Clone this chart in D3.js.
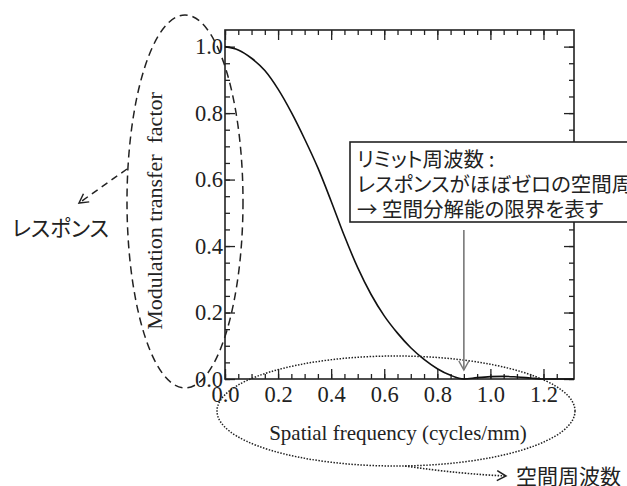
<!DOCTYPE html>
<html>
<head>
<meta charset="utf-8">
<script src="https://cdn.jsdelivr.net/npm/d3@7"></script>
<style>
  body { margin: 0; background: #fff; }
  svg { display: block; }
  .serif { font-family: "Liberation Serif", "Times New Roman", serif; fill: #222; }
  .jp { font-family: "Noto Sans CJK JP", sans-serif; fill: #222; font-feature-settings: "palt"; }
</style>
</head>
<body>
<div class="container"></div>
<script>
// spatial frequency (cycles/mm) and read-off MTF values
var frequency = [0, 0.05, 0.1, 0.15, 0.2, 0.25, 0.3, 0.35, 0.4, 0.45, 0.5, 0.55, 0.6, 0.65, 0.7, 0.75, 0.8, 0.85, 0.9, 0.95, 1.0, 1.05, 1.1, 1.15, 1.2, 1.25, 1.315];
var mtf = [1.0, 0.99, 0.965, 0.928, 0.872, 0.802, 0.722, 0.635, 0.535, 0.43, 0.335, 0.255, 0.19, 0.138, 0.094, 0.059, 0.031, 0.011, 0.0, 0.004, 0.007, 0.008, 0.006, 0.003, 0.0, 0.0, 0.0];

var xTicks = [0, 0.2, 0.4, 0.6, 0.8, 1.0, 1.2];
var yTicks = [0, 0.2, 0.4, 0.6, 0.8, 1.0];
var minorX = d3.range(0, 1.30, 0.05);
var minorY = d3.range(0, 1.04, 0.05);

var boxLines = ["リミット周波数 :", "レスポンスがほぼゼロの空間周波数", "→ 空間分解能の限界を表す"];
var limitFreq = 0.9;

const WIDTH = 627;
const HEIGHT = 486;
const LEFT = 225, RIGHT = 574, TOP = 30, BOTTOM = 379;

var translate = function(x, y){
	return "translate(" + x + "," + y + ")";
};

var svg = d3.select('.container').append('svg')
	.attr('width', WIDTH)
	.attr('height', HEIGHT);

var defs = svg.append('defs');
defs.append('marker')
	.attr('id', 'openhead')
	.attr('viewBox', '-10 -6 12 12')
	.attr('refX', 0).attr('refY', 0)
	.attr('markerWidth', 12).attr('markerHeight', 12)
	.attr('markerUnits', 'userSpaceOnUse')
	.attr('orient', 'auto')
	.append('path')
	.attr('d', 'M-9,-5 L0,0 L-9,5')
	.attr('fill', 'none')
	.attr('stroke', 'context-stroke')
	.attr('stroke-width', 1.5);

var xScale = d3.scaleLinear().domain([0, 1.315]).range([LEFT, RIGHT]);
var yScale = d3.scaleLinear().domain([0, 1.05]).range([BOTTOM, TOP]);

// minor ticks (no labels) on all four sides
var axes = [
	{ f: d3.axisBottom, s: xScale, t: minorX, at: translate(0, BOTTOM) },
	{ f: d3.axisTop, s: xScale, t: minorX, at: translate(0, TOP) },
	{ f: d3.axisLeft, s: yScale, t: minorY, at: translate(LEFT, 0) },
	{ f: d3.axisRight, s: yScale, t: minorY, at: translate(RIGHT, 0) }
];
axes.forEach(function(a){
	svg.append('g').attr('transform', a.at)
		.call(a.f(a.s).tickValues(a.t).tickSize(-5).tickFormat(''))
		.call(function(g){ g.select('.domain').remove(); })
		.selectAll('line').attr('stroke', '#222').attr('stroke-width', 1.3);
});

// major ticks
var xMajor = svg.append('g').attr('transform', translate(0, BOTTOM))
	.call(d3.axisBottom(xScale).tickValues(xTicks).tickSize(-10).tickPadding(7).tickFormat(d3.format('.1f')));
svg.append('g').attr('transform', translate(0, TOP))
	.call(d3.axisTop(xScale).tickValues(xTicks).tickSize(-10).tickFormat(''));
var yMajor = svg.append('g').attr('transform', translate(LEFT, 0))
	.call(d3.axisLeft(yScale).tickValues(yTicks).tickSize(-10).tickPadding(2).tickFormat(d3.format('.1f')));
svg.append('g').attr('transform', translate(RIGHT, 0))
	.call(d3.axisRight(yScale).tickValues(yTicks).tickSize(-10).tickFormat(''));

svg.selectAll('.domain').remove();
svg.selectAll('.tick line').attr('stroke', '#222').attr('stroke-width', 1.3);
[xMajor, yMajor].forEach(function(g){
	g.selectAll('text').attr('class', 'serif').attr('font-size', 22.5).attr('fill', '#222');
});

// frame
svg.append('rect')
	.attr('x', LEFT).attr('y', TOP)
	.attr('width', RIGHT - LEFT).attr('height', BOTTOM - TOP)
	.attr('fill', 'none').attr('stroke', '#222').attr('stroke-width', 1.6);

// MTF curve
var line = d3.line()
	.curve(d3.curveMonotoneX)
	.x(function(d, i){ return xScale(frequency[i]); })
	.y(function(d){ return yScale(d); });
svg.append('path')
	.attr('d', line(mtf))
	.attr('fill', 'none').attr('stroke', '#111').attr('stroke-width', 1.6);

// axis titles
svg.append('text').attr('class', 'serif')
	.attr('font-size', 22)
	.attr('text-anchor', 'middle')
	.attr('transform', translate(162, 211) + ' rotate(-90)')
	.style('white-space', 'pre')
	.text('Modulation transfer  factor');
svg.append('text').attr('class', 'serif')
	.attr('font-size', 21)
	.attr('text-anchor', 'middle')
	.attr('x', 398).attr('y', 440)
	.text('Spatial frequency (cycles/mm)');

// dashed ellipse round the y title, with arrow to レスポンス
svg.append('ellipse')
	.attr('cx', 185).attr('cy', 201.5).attr('rx', 58).attr('ry', 186.5)
	.attr('fill', 'none').attr('stroke', '#222').attr('stroke-width', 1.5)
	.attr('stroke-dasharray', '8,5');
svg.append('line')
	.attr('x1', 127).attr('y1', 169).attr('x2', 79).attr('y2', 203)
	.attr('stroke', '#222').attr('stroke-width', 1.5)
	.attr('stroke-dasharray', '7,5')
	.attr('marker-end', 'url(#openhead)');
svg.append('text').attr('class', 'jp')
	.attr('font-size', 21.5)
	.attr('x', 12).attr('y', 236)
	.text('レスポンス');

// dotted ellipse round the x title, with arrow to 空間周波数
svg.append('ellipse')
	.attr('cx', 396).attr('cy', 411).attr('rx', 179).attr('ry', 55)
	.attr('fill', 'none').attr('stroke', '#222').attr('stroke-width', 1.5)
	.attr('stroke-dasharray', '1.5,1.5');
svg.append('path')
	.attr('d', 'M405,466 Q460,474 506,476')
	.attr('fill', 'none')
	.attr('stroke', '#222').attr('stroke-width', 1.6)
	.attr('stroke-dasharray', '1.5,1.5')
	.attr('marker-end', 'url(#openhead)');
svg.append('text').attr('class', 'jp')
	.attr('font-size', 21)
	.attr('x', 516).attr('y', 484)
	.text('空間周波数');

// annotation box (runs past the right edge, as in the source figure)
var box = svg.append('g');
box.append('rect')
	.attr('x', 350).attr('y', 142).attr('width', 320).attr('height', 80)
	.attr('fill', '#fff').attr('stroke', '#222').attr('stroke-width', 1.6);
box.selectAll('text').data(boxLines).enter().append('text')
	.attr('class', 'jp')
	.attr('font-size', 20.5)
	.attr('x', 357)
	.attr('y', function(d, i){ return 167 + i * 25; })
	.text(function(d){ return d; });

// gray arrow down to the limit frequency
svg.append('line')
	.attr('x1', xScale(limitFreq)).attr('y1', 230)
	.attr('x2', xScale(limitFreq)).attr('y2', yScale(0) - 9)
	.attr('stroke', '#777').attr('stroke-width', 1.6)
	.attr('marker-end', 'url(#openhead)');
</script>
</body>
</html>
